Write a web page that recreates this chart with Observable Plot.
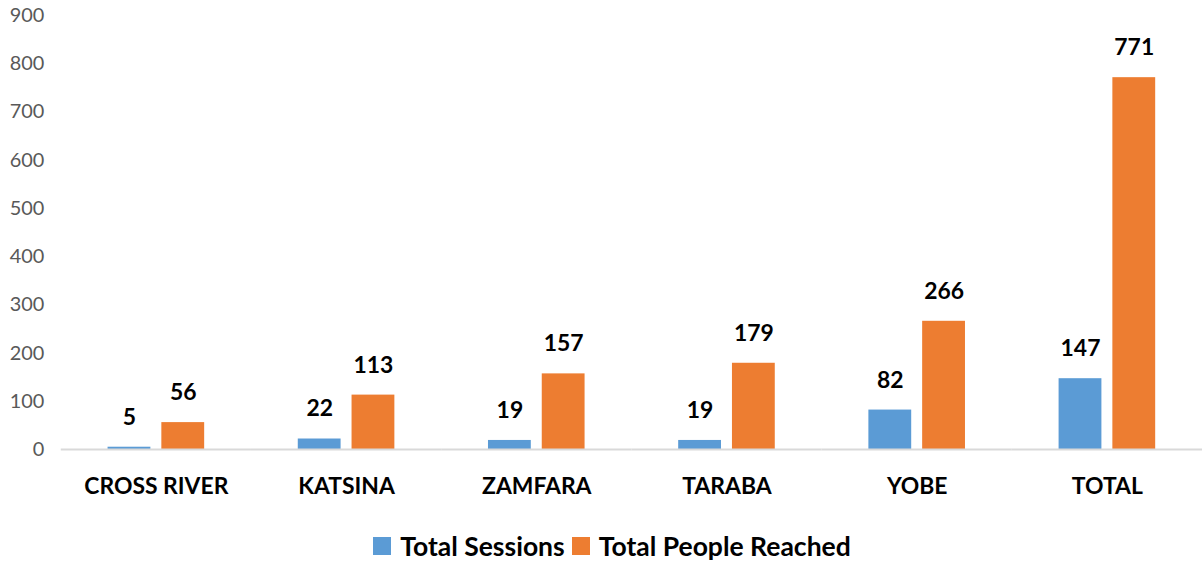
<!DOCTYPE html>
<html>
<head>
<meta charset="utf-8">
<script src="https://cdn.jsdelivr.net/npm/d3@7"></script>
<script src="https://cdn.jsdelivr.net/npm/@observablehq/plot@0.6"></script>
<style>
  html, body { margin: 0; padding: 0; background: #fff; overflow: hidden; }
  #chart { width: 1203px; font-family: Lato, "Open Sans", sans-serif; }
  .legend { display: flex; justify-content: center; align-items: center; margin-top: 12px; font-weight: bold; font-size: 26.5px; line-height: 30px; color: #000; padding-left: 28px;}
  .legend .item { display: flex; align-items: center; margin-right: 7px; }
  .legend .sw { width: 18px; height: 18px; margin-right: 9px; }
</style>
</head>
<body>
<div id="chart"></div>
<script>
const categories = ["CROSS RIVER", "KATSINA", "ZAMFARA", "TARABA", "YOBE", "TOTAL"];
const series = ["Total Sessions", "Total People Reached"];
const sessions = [5, 22, 19, 19, 82, 147];
const people = [56, 113, 157, 179, 266, 771];
const colors = ["#5B9BD5", "#ED7D31"];
const yTicks = [0, 100, 200, 300, 400, 500, 600, 700, 800, 900];

const data = [];
categories.forEach((c, i) => {
  data.push({category: c, series: series[0], value: sessions[i]});
  data.push({category: c, series: series[1], value: people[i]});
});

const plot = Plot.plot({
  width: 1208,
  height: 521,
  marginTop: 15,
  marginBottom: 70,
  marginLeft: 60,
  marginRight: 0,
  style: {fontFamily: "Lato, 'Open Sans', sans-serif", background: "#fff", display: "block"},
  fx: {domain: categories, padding: 0, label: null},
  x: {domain: series, paddingInner: 0.2, paddingOuter: 0.84, axis: null},
  y: {domain: [0, 900], label: null},
  color: {domain: series, range: colors},
  marks: [
    Plot.axisY({ticks: yTicks, tickSize: 0, tickPadding: 17, fontSize: 20, fill: "#595959", label: null}),
    Plot.axisFx({anchor: "bottom", tickSize: 0, tickPadding: 28, fontSize: 23, fontWeight: "bold", fill: "#000", label: null}),
    Plot.barY(data, {fx: "category", x: "series", y: "value", fill: "series"}),
    Plot.ruleY([0], {stroke: "#d9d9d9", strokeWidth: 2}),
    Plot.text(data, {fx: "category", x: "series", y: "value", text: d => String(d.value), dy: -30, fontSize: 23, fontWeight: "bold", fill: "#000", lineAnchor: "middle"})
  ]
});

const chart = document.getElementById("chart");
chart.appendChild(plot);

const legend = document.createElement("div");
legend.className = "legend";
series.forEach((s, i) => {
  const item = document.createElement("div");
  item.className = "item";
  const sw = document.createElement("span");
  sw.className = "sw";
  sw.style.background = colors[i];
  const label = document.createElement("span");
  label.textContent = s;
  item.appendChild(sw);
  item.appendChild(label);
  legend.appendChild(item);
});
chart.appendChild(legend);
</script>
</body>
</html>
